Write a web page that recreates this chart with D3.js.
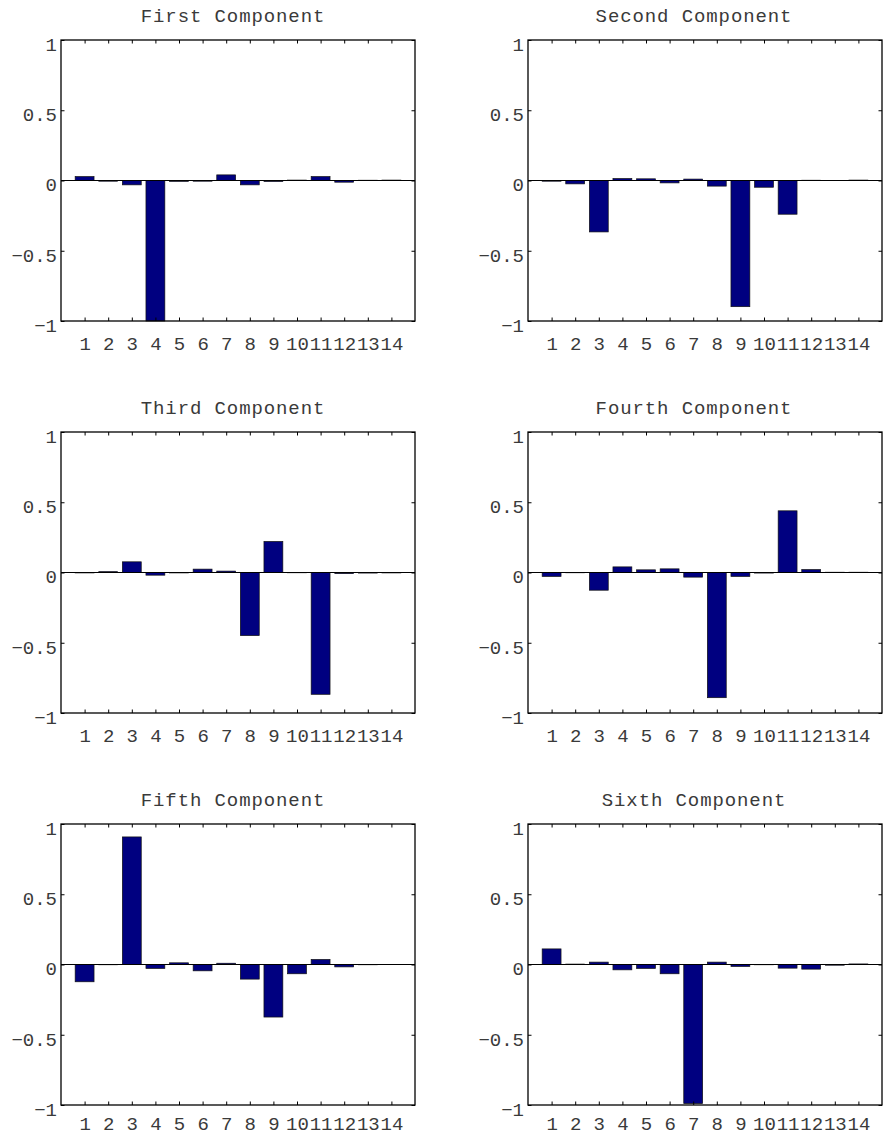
<!DOCTYPE html>
<html>
<head>
<meta charset="utf-8">
<script src="https://cdn.jsdelivr.net/npm/d3@7"></script>
<style>
  html, body { margin: 0; padding: 0; background: #fff; }
  svg { display: block; }
</style>
</head>
<body>
<svg id="chart" width="889" height="1140"></svg>
<script>
// Loadings of the six components over 14 variables
const categories = [1, 2, 3, 4, 5, 6, 7, 8, 9, 10, 11, 12, 13, 14];
const titles = ["First Component", "Second Component", "Third Component",
                "Fourth Component", "Fifth Component", "Sixth Component"];
const yTicks = [-1, -0.5, 0, 0.5, 1];
const yTickLabels = ["\u22121", "\u22120.5", "0", "0.5", "1"];

const first  = [0.028, -0.005, -0.031, -1.0, -0.006, -0.005, 0.040, -0.031, -0.007, 0.003, 0.028, -0.012, 0.002, 0.003];
const second = [-0.005, -0.024, -0.366, 0.014, 0.012, -0.017, 0.010, -0.040, -0.898, -0.048, -0.240, 0.002, 0.001, 0.003];
const third  = [-0.003, 0.006, 0.076, -0.019, -0.003, 0.024, 0.010, -0.449, 0.221, -0.002, -0.867, -0.008, -0.004, -0.003];
const fourth = [-0.028, -0.002, -0.126, 0.040, 0.019, 0.026, -0.033, -0.891, -0.028, -0.004, 0.439, 0.021, 0.002, 0.002];
const fifth  = [-0.123, -0.002, 0.908, -0.028, 0.012, -0.045, 0.009, -0.104, -0.374, -0.066, 0.036, -0.017, -0.002, 0.001];
const sixth  = [0.111, 0.003, 0.017, -0.038, -0.028, -0.066, -0.990, 0.017, -0.014, -0.002, -0.026, -0.033, -0.005, 0.004];

const series = [first, second, third, fourth, fifth, sixth];

// Panel geometry (2 columns x 3 rows)
const colX = [61, 528];
const panelW = 354;
const rowY = [40, 432, 824];
const panelH = 281;
const xLabelPad = [16, 16, 12];
const titleCx = [233, 694];
const barWidth = 0.8;
const tickLen = 3.5;
const fontFamily = '"Liberation Mono", "DejaVu Sans Mono", monospace';
const textColor = "#3a3a3a";

const svg = d3.select("#chart");

series.forEach((values, k) => {
  const col = k % 2, row = Math.floor(k / 2);
  const g = svg.append("g").attr("transform", `translate(${colX[col]},${rowY[row]})`);

  const x = d3.scaleLinear().domain([0, 15]).range([0, panelW]);
  const y = d3.scaleLinear().domain([-1, 1]).range([panelH, 0]);

  // bars
  g.append("g").selectAll("rect")
    .data(categories)
    .join("rect")
    .attr("x", (c) => x(c - barWidth / 2))
    .attr("width", (c) => x(c + barWidth / 2) - x(c - barWidth / 2))
    .attr("y", (c, i) => y(Math.max(0, values[i])))
    .attr("height", (c, i) => Math.abs(y(values[i]) - y(0)))
    .attr("fill", "#000080")
    .attr("stroke", "#111")
    .attr("stroke-width", 0.7);

  // zero baseline
  g.append("line")
    .attr("x1", 0).attr("x2", panelW)
    .attr("y1", y(0)).attr("y2", y(0))
    .attr("stroke", "#000").attr("stroke-width", 1.1);

  // axes: ticks point inward on all four sides
  const bottom = g.append("g").attr("transform", `translate(0,${panelH})`)
    .call(d3.axisBottom(x).tickValues(categories).tickSize(-tickLen).tickPadding(xLabelPad[row]));
  const top = g.append("g")
    .call(d3.axisTop(x).tickValues(categories).tickSize(-tickLen).tickFormat(""));
  const left = g.append("g")
    .call(d3.axisLeft(y).tickValues(yTicks).tickSize(-tickLen).tickPadding(4)
      .tickFormat((d, i) => yTickLabels[i]));
  const right = g.append("g").attr("transform", `translate(${panelW},0)`)
    .call(d3.axisRight(y).tickValues(yTicks).tickSize(-tickLen).tickFormat(""));

  [bottom, top, left, right].forEach((a) => {
    a.select(".domain").remove();
    a.selectAll(".tick line").attr("stroke", "#000").attr("stroke-width", 1);
    a.selectAll(".tick text")
      .attr("fill", textColor)
      .style("font-family", fontFamily)
      .style("font-size", "19px");
  });
  left.selectAll(".tick text").attr("dy", "0.55em");

  // box frame
  g.append("rect")
    .attr("x", 0).attr("y", 0)
    .attr("width", panelW).attr("height", panelH)
    .attr("fill", "none").attr("stroke", "#000").attr("stroke-width", 1.3);

  // title
  svg.append("text")
    .attr("x", titleCx[col])
    .attr("y", rowY[row] - 18)
    .attr("text-anchor", "middle")
    .attr("fill", textColor)
    .style("font-family", fontFamily)
    .style("font-size", "19px")
    .style("letter-spacing", "0.9px")
    .text(titles[k]);
});
</script>
</body>
</html>
